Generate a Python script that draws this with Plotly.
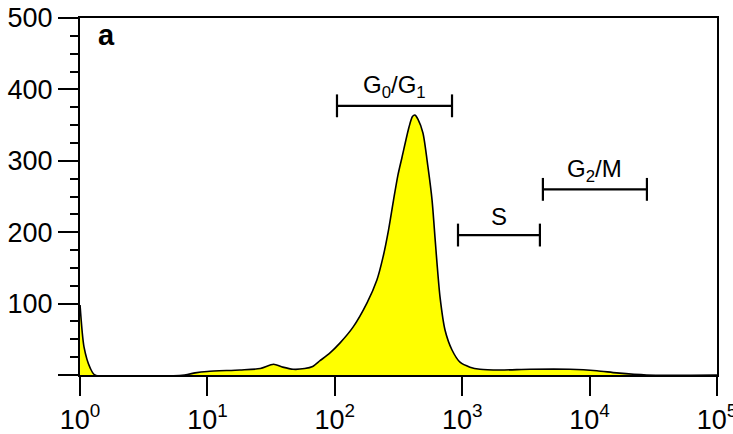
import numpy as np
import plotly.graph_objects as go

# Histogram outline (fluorescence intensity vs. count)
intensity = [1.0, 1.075, 1.2, 1.31, 6.6, 8.0, 10, 18, 26, 33, 39, 47, 58, 67, 76.5, 91.7, 110,
             139, 179, 214, 239, 264, 289, 313, 337, 382, 407, 426, 450, 492, 539, 580, 612, 634, 670,
             733, 832, 961, 1151, 1380, 1981, 3400, 7000, 11400, 16300, 28000, 100000]
counts = [98, 39, 10, 0, 0, 3, 5, 7, 9, 15, 11, 8, 9, 12, 20, 31, 45,
          67, 101, 133, 165, 203, 245, 280, 305, 347, 362, 364, 358, 339, 291, 245, 192, 157, 109,
          63, 35, 18, 11, 8, 7, 8, 8, 6, 3, 0, 0]

# Gate brackets
gate_labels = ["G<sub>0</sub>/G<sub>1</sub>", "S", "G<sub>2</sub>/M"]
gate_start = [104, 927, 4300]
gate_end = [832, 4075, 28200]
gate_level = [377, 196, 260]

x_tickvals = [1, 10, 100, 1000, 10000, 100000]
x_ticktext = ["10<sup>0</sup>", "10<sup>1</sup>", "10<sup>2</sup>", "10<sup>3</sup>",
              "10<sup>4</sup>", "10<sup>5</sup>"]
y_tickvals = [0, 100, 200, 300, 400, 500]
y_ticktext = ["", "100", "200", "300", "400", "500"]

FONT = "Arial, Liberation Sans, sans-serif"

fig = go.Figure()
fig.add_trace(go.Scatter(
    x=intensity, y=counts, mode="lines", line=dict(color="black", width=1.6, shape="spline", smoothing=0.7),
    fill="tozeroy", fillcolor="#FFFF00", hoverinfo="skip", showlegend=False))

cap = 16
for lab, s, e, lv in zip(gate_labels, gate_start, gate_end, gate_level):
    fig.add_trace(go.Scatter(
        x=[s, e, None, s, s, None, e, e],
        y=[lv, lv, None, lv - cap, lv + cap, None, lv - cap, lv + cap],
        mode="lines", line=dict(color="black", width=2.2), hoverinfo="skip", showlegend=False))
    fig.add_annotation(x=(np.log10(s) + np.log10(e)) / 2, y=lv, xref="x", yref="y",
                       text=lab, showarrow=False, yanchor="middle", yshift=19,
                       font=dict(family=FONT, size=24, color="black"))

fig.add_annotation(x=0.025, y=0.953, xref="paper", yref="paper", text="<b>a</b>",
                   showarrow=False, xanchor="left", yanchor="middle",
                   font=dict(family=FONT, size=29, color="black"))

fig.update_layout(
    width=733, height=434,
    margin=dict(l=80, r=16, t=18, b=59),
    plot_bgcolor="white", paper_bgcolor="white",
    font=dict(family=FONT, size=27, color="black"),
    xaxis=dict(type="log", range=[-0.0003, 5.0003], tickmode="array", tickvals=x_tickvals, ticktext=x_ticktext,
               showgrid=False, zeroline=False, showline=True, linecolor="black", linewidth=2.2,
               mirror=True, ticks="outside", ticklen=19, tickwidth=2.2, tickcolor="black",
               ticklabeloverflow="allow",
               automargin=False, tickfont=dict(family=FONT, size=27, color="black")),
    yaxis=dict(range=[0, 500], tickmode="array", tickvals=y_tickvals, ticktext=y_ticktext,
               showgrid=False, zeroline=False, showline=True, linecolor="black", linewidth=2.2,
               mirror=True, ticks="outside", ticklen=20, tickwidth=2.2, tickcolor="black",
               ticklabeloverflow="allow",
               automargin=False, tickfont=dict(family=FONT, size=27, color="black"),
               minor=dict(dtick=25, ticks="outside", ticklen=8, tickwidth=2.2, tickcolor="black",
                          showgrid=False)),
)

fig.write_html("out.html", config={"displayModeBar": False},
               post_script="document.body.style.margin='0';document.body.style.overflow='hidden';")
